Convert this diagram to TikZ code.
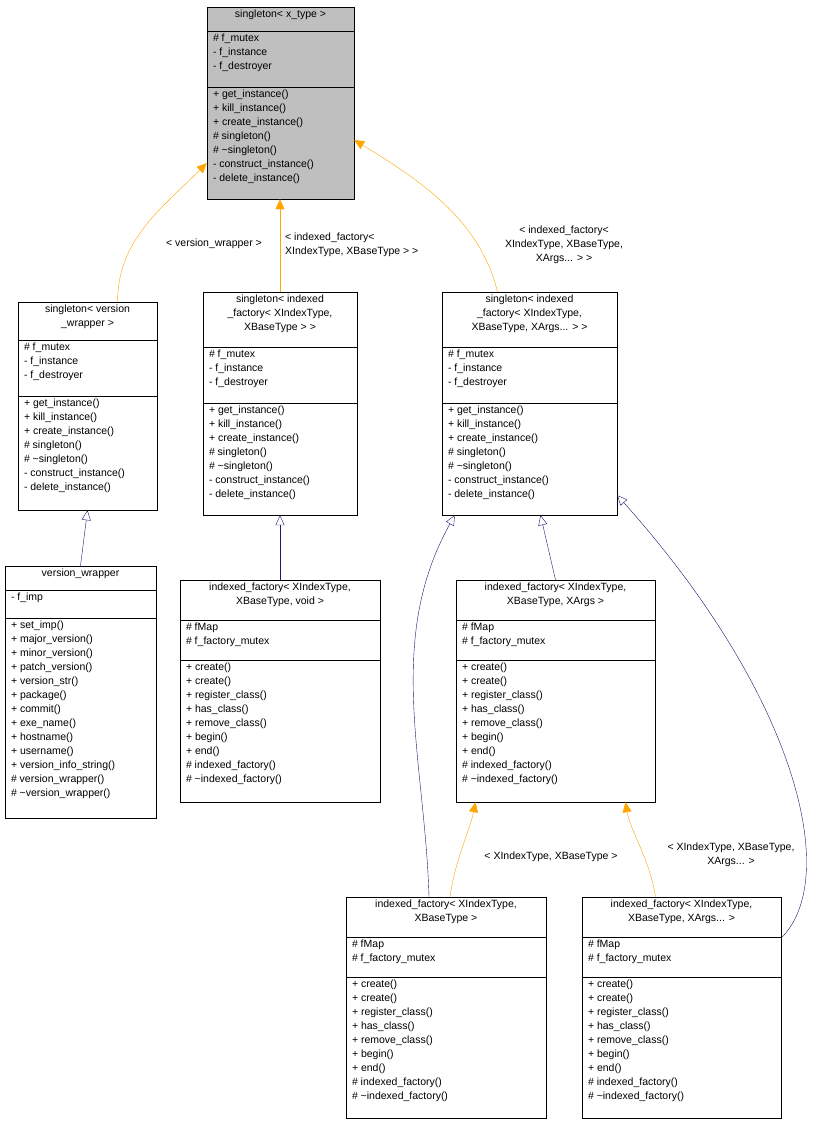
\documentclass[tikz,border=0pt]{standalone}
\usepackage{fontspec}
\setmainfont{Liberation Sans}
\usetikzlibrary{arrows.meta,fit,calc}
\definecolor{tmpl}{HTML}{FFA500}
\definecolor{inhc}{HTML}{191970}
\definecolor{cur}{HTML}{BFBFBF}
\tikzset{
  txt/.style={inner sep=0pt, align=left, font=\fontsize{10.5}{14}\selectfont},
  inh/.style={draw=inhc, -{Triangle[open,length=10pt,width=9pt]}},
  tpl/.style={draw=tmpl, -{Triangle[length=10pt,width=9pt,fill=tmpl]}},
  lbl/.style={txt, align=center}
}
% class box: name, top-left, bottom-right, y of first rule, y of second rule, title, attrs, methods, fill
\newcommand\cls[9]{%
  \node[fit={(#2)(#3)}, inner sep=0pt, draw, fill=#9] (#1) {};
  \draw (#1.west |- 0,#4) -- (#1.east |- 0,#4);
  \draw (#1.west |- 0,#5) -- (#1.east |- 0,#5);
  \node[txt, align=center, anchor=north] (#1-t) at ($(#1.north)+(0,3)$) {#6};
  \node[txt, anchor=north west] (#1-a) at ($(#1.west |- 0,#4)+(6,3)$) {#7};
  \node[txt, anchor=north west] (#1-m) at ($(#1.west |- 0,#5)+(6,3)$) {#8};
}
\newcommand\sgl{\#~f\_mutex\\- f\_instance\\- f\_destroyer}
\newcommand\sgm{+ get\_instance()\\+ kill\_instance()\\+ create\_instance()\\\#~singleton()\\\#~\textasciitilde singleton()\\- construct\_instance()\\- delete\_instance()}
\newcommand\ifa{\#~fMap\\\#~f\_factory\_mutex}
\newcommand\ifm{+ create()\\+ create()\\+ register\_class()\\+ has\_class()\\+ remove\_class()\\+ begin()\\+ end()\\\#~indexed\_factory()\\\#~\textasciitilde indexed\_factory()}
\begin{document}
\begin{tikzpicture}[x=1pt,y=-1pt]
\useasboundingbox (0,0) rectangle (828,1125);
\cls{st}{207,7}{354,199}{31}{87}{singleton< x\_type >}{\sgl}{\sgm}{cur}
\cls{svw}{18,302}{157,510}{340}{396}{singleton< version\\\_wrapper >}{\sgl}{\sgm}{white}
\cls{sf2}{203,292}{357,515}{347}{403}{singleton< indexed\\\_factory< XIndexType,\\XBaseType > >}{\sgl}{\sgm}{white}
\cls{sf3}{442,292}{617,515}{347}{403}{singleton< indexed\\\_factory< XIndexType,\\XBaseType, XArgs... > >}{\sgl}{\sgm}{white}
\cls{vw}{5,566}{156,818}{590}{618}{version\_wrapper}{- f\_imp}{+ set\_imp()\\+ major\_version()\\+ minor\_version()\\+ patch\_version()\\+ version\_str()\\+ package()\\+ commit()\\+ exe\_name()\\+ hostname()\\+ username()\\+ version\_info\_string()\\\#~version\_wrapper()\\\#~\textasciitilde version\_wrapper()}{white}
\cls{ifv}{180,580}{380,802}{620}{660}{indexed\_factory< XIndexType,\\XBaseType, void >}{\ifa}{\ifm}{white}
\cls{ifx}{456,580}{655,802}{620}{660}{indexed\_factory< XIndexType,\\XBaseType, XArgs >}{\ifa}{\ifm}{white}
\cls{if2}{346,897}{546,1118}{937}{977}{indexed\_factory< XIndexType,\\XBaseType >}{\ifa}{\ifm}{white}
\cls{if3}{582,897}{781,1118}{937}{977}{indexed\_factory< XIndexType,\\XBaseType, XArgs... >}{\ifa}{\ifm}{white}

% template instantiations
\draw[tpl] ($(svw.north)+(30,0)$) .. controls (118,240) and (160,210) .. ($(st.west)+(0,60)$);
\draw[tpl] (sf2.north) -- (st.south -| sf2.north);
\draw[tpl] ($(sf3.north)+(-32,0)$) .. controls (480,220) and (420,180) .. ($(st.east)+(0,37)$);
\draw[tpl] ($(if2.north)+(4,0)$) .. controls (455,860) and (470,830) .. ($(ifx.south)+(-80,0)$);
\draw[tpl] ($(if3.north)+(-26,0)$) .. controls (650,860) and (630,830) .. ($(ifx.south)+(70,0)$);
\node[lbl] (l1) at (214,244) {< version\_wrapper >};
\node[lbl, anchor=west, align=left] (l2) at (285,245) {< indexed\_factory<\\XIndexType, XBaseType > >};
\node[lbl] (l3) at (564,245) {< indexed\_factory<\\XIndexType, XBaseType,\\XArgs... > >};
\node[lbl] (l4) at (551,857) {< XIndexType, XBaseType >};
\node[lbl] (l5) at (731,855) {< XIndexType, XBaseType,\\XArgs... >};

% inheritance
\draw[inh] (vw.north) -- (svw.south);
\draw[inh] (ifv.north) -- (sf2.south);
\draw[inh] (ifx.north) -- ($(sf3.south)+(11,0)$);
\draw[inh] ($(if2.north)+(-17,0)$) .. controls (425,760) and (385,640) .. ($(sf3.south west)+(13,0)$);
\draw[inh] (if3.east |- 0,938) .. controls (840,880) and (800,700) .. ($(sf3.south east)+(0,-20)$);
\end{tikzpicture}
\end{document}
